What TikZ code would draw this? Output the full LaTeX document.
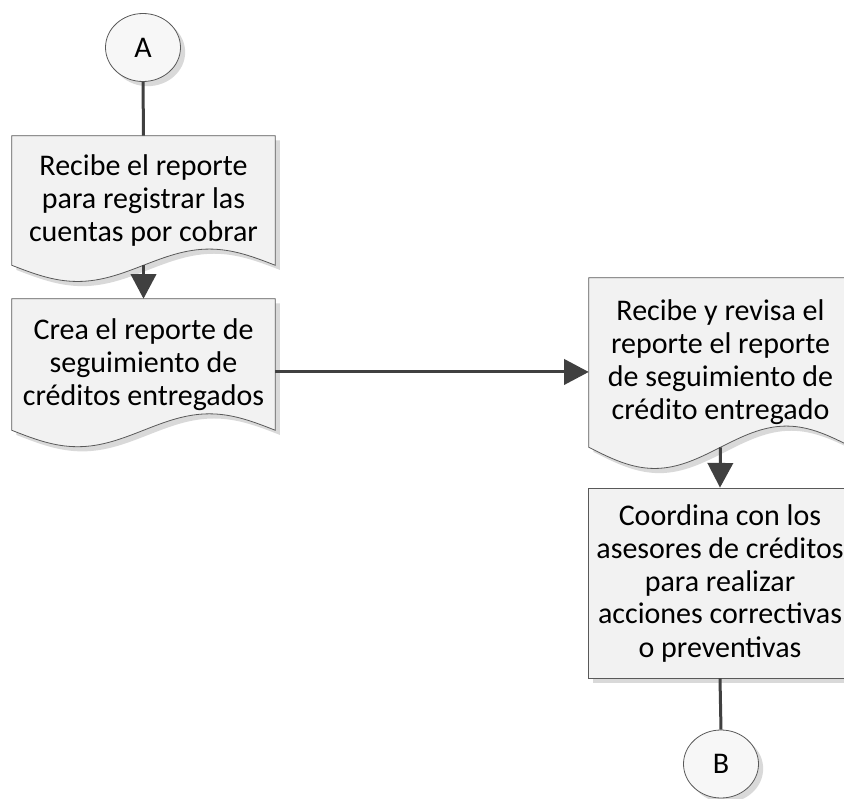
\documentclass[tikz,border=0pt]{standalone}
\usepackage{fontspec}
\setmainfont{Carlito}
\usetikzlibrary{arrows.meta,positioning,calc,shapes.geometric,shadows,backgrounds}
\definecolor{outline}{HTML}{595959}
\definecolor{wire}{HTML}{404040}
\definecolor{boxfill}{HTML}{F2F2F2}
\definecolor{dotfill}{HTML}{F7F7F7}
\definecolor{shade}{HTML}{D9D9D9}

\begin{document}
\begin{tikzpicture}[
    x=0.75pt, y=-0.75pt,
    font=\fontsize{22.5}{24.75}\selectfont,
    >={Triangle[length=18.5pt,width=19pt]},
    softshadow/.style = {drop shadow={shadow xshift=3.5pt, shadow yshift=-3.5pt,
                         fill=shade, opacity=1}},
    refnode/.style  = {ellipse, draw=outline, fill=dotfill, line width=0.6pt,
                       minimum width=56.25pt, minimum height=51pt, inner sep=0pt,
                       softshadow},
    docbox/.style   = {minimum width=197.25pt, align=center, inner sep=0pt},
    procbox/.style  = {draw=outline, fill=boxfill, line width=0.6pt,
                       minimum width=197.25pt, align=center, inner sep=0pt,
                       softshadow},
    docshape/.style = {draw=outline, fill=boxfill, line width=0.6pt, softshadow},
    flow/.style     = {draw=wire, line width=2.25pt, ->},
    link/.style     = {draw=wire, line width=2.25pt},
  ]
  \useasboundingbox (0,0) rectangle (844,799);

  % --- Left column -----------------------------------------------------
  \node[refnode] (conA) at (143,47.5) {A};
  \node[docbox, minimum height=96.75pt] (recibe) at (143.5,200.5)
    {Recibe el reporte\\para registrar las\\cuentas por cobrar};
  \node[docbox, minimum height=98.25pt] (crea) at (143.5,364.5)
    {Crea el reporte de\\seguimiento de\\créditos entregados};

  % --- Right column ----------------------------------------------------
  \node[docbox, minimum height=126.75pt] (revisa) at (720.5,362.5)
    {Recibe y revisa el\\reporte el reporte\\de seguimiento de\\crédito entregado};
  \node[procbox, minimum height=142.5pt] (coordina) at (720,583)
    {Coordina con los\\asesores de créditos\\para realizar\\acciones correctivas\\o preventivas};
  \node[refnode] (conB) at (721,764) {B};

  % Document outlines with wavy bottom edge
  \begin{scope}[on background layer]
    \foreach \d in {recibe,crea,revisa}{
      \draw[docshape] let \p1=(\d.north west), \p2=(\d.south east),
          \n1={0.125*(\y1-\y2)}, \n2={(\x2-\x1)/4} in
        (\p1) -- (\x1,\y2) sin ++(\n2,-\n1) cos ++(\n2,\n1)
        sin ++(\n2,\n1) cos ++(\n2,-\n1) -- (\x2,\y1) -- cycle;
    }
  \end{scope}

  % --- Connectors ------------------------------------------------------
  \draw[link] (conA.south) -- (recibe.north);
  \draw[flow] (recibe.south) -- (crea.north);
  \coordinate (out) at ([yshift=-5.6pt]crea.east);
  \draw[flow] (out) -- (out -| revisa.west);
  \draw[flow] (revisa.south) -- (coordina.north);
  \draw[link] (coordina.south) -- (conB.north);

\end{tikzpicture}
\end{document}
